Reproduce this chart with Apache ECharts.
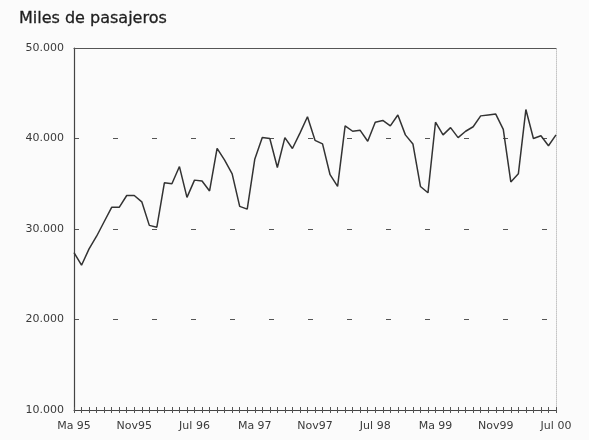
<!DOCTYPE html>
<html>
<head>
<meta charset="utf-8">
<script src="https://cdn.jsdelivr.net/npm/echarts@6/dist/echarts.min.js"></script>
<style>
html,body{margin:0;padding:0;background:#fbfbfb;}
#chart{width:589px;height:440px;}
</style>
</head>
<body>
<div id="chart"></div>
<script>
// Months from Mar 1995 to Jul 2000
const months = [];
(function(){
  let y = 1995, m = 3;
  while (y < 2000 || (y === 2000 && m <= 7)) {
    months.push(y + '-' + String(m).padStart(2, '0'));
    m++; if (m > 12) { m = 1; y++; }
  }
})();

const xTickLabels = ['Ma 95', 'Nov95', 'Jul 96', 'Ma 97', 'Nov97', 'Jul 98', 'Ma 99', 'Nov99', 'Jul 00'];
const yTickLabels = ['10.000', '20.000', '30.000', '40.000', '50.000'];

const pasajeros = [
  27400, 26000, 27800, 29200, 30800, 32400, 32400, 33700, 33700, 33000,
  30400, 30200, 35100, 35000, 36900, 33500, 35400, 35300, 34200, 38900,
  37600, 36100, 32500, 32200, 37700, 40100, 40000, 36800, 40100, 38900,
  40600, 42400, 39800, 39400, 36000, 34700, 41400, 40800, 40900, 39700,
  41800, 42000, 41400, 42600, 40400, 39400, 34700, 34000, 41800, 40400,
  41200, 40100, 40800, 41300, 42500, 42600, 42700, 41000, 35200, 36100,
  43200, 40000, 40300, 39200, 40400
];

const chart = echarts.init(document.getElementById('chart'), null, {renderer: 'canvas'});
const labelFont = 'DejaVu Sans';
chart.setOption({
  backgroundColor: '#fbfbfb',
  animation: false,
  title: {
    text: 'Miles de pasajeros',
    left: 14, top: 6,
    textStyle: {fontFamily: 'DejaVu Sans', fontSize: 16, fontWeight: 'normal', color: '#1e1e1e', textBorderColor: '#1e1e1e', textBorderWidth: 0.3}
  },
  grid: {left: 74, right: 33, top: 48, bottom: 30},
  xAxis: [
    {
      type: 'category', data: months, boundaryGap: false, position: 'bottom',
      axisLine: {lineStyle: {color: '#444', width: 1.2}},
      axisTick: {show: true, interval: 0, length: 3, lineStyle: {color: '#555'}},
      axisLabel: {
        interval: 7, margin: 11, color: '#3a3a3a', fontFamily: labelFont, fontSize: 11,
        formatter: function (v, i) { return xTickLabels[i / 8] || ''; }
      },
      splitLine: {show: false}
    },
    {
      type: 'category', data: months, boundaryGap: false, position: 'bottom',
      axisLine: {show: false},
      axisTick: {show: true, inside: true, interval: 0, length: 3, lineStyle: {color: '#555'}},
      axisLabel: {show: false}, splitLine: {show: false}
    },
    {
      type: 'category', data: months, boundaryGap: false, position: 'top',
      axisLine: {show: true, lineStyle: {color: '#555', width: 1.2}},
      axisTick: {show: false}, axisLabel: {show: false}, splitLine: {show: false}
    }
  ],
  yAxis: [
    {
      type: 'value', min: 10000, max: 50000, interval: 10000,
      axisLine: {show: true, lineStyle: {color: '#444', width: 1.2}},
      axisTick: {show: false},
      axisLabel: {
        margin: 10, color: '#3a3a3a', fontFamily: labelFont, fontSize: 11,
        formatter: function (v) { return yTickLabels[(v - 10000) / 10000]; }
      },
      splitLine: {show: true, lineStyle: {color: '#555', width: 1, type: [5, 34]}}
    },
    {
      type: 'value', min: 10000, max: 50000, interval: 10000, position: 'right',
      axisLine: {show: true, lineStyle: {color: '#c4c4c4', width: 1, type: 'dotted'}},
      axisTick: {show: false}, axisLabel: {show: false}, splitLine: {show: false}
    }
  ],
  series: [{
    type: 'line', xAxisIndex: 0, yAxisIndex: 0,
    data: pasajeros, symbol: 'none', smooth: false,
    lineStyle: {color: '#333', width: 1.5}
  }]
});
</script>
</body>
</html>
